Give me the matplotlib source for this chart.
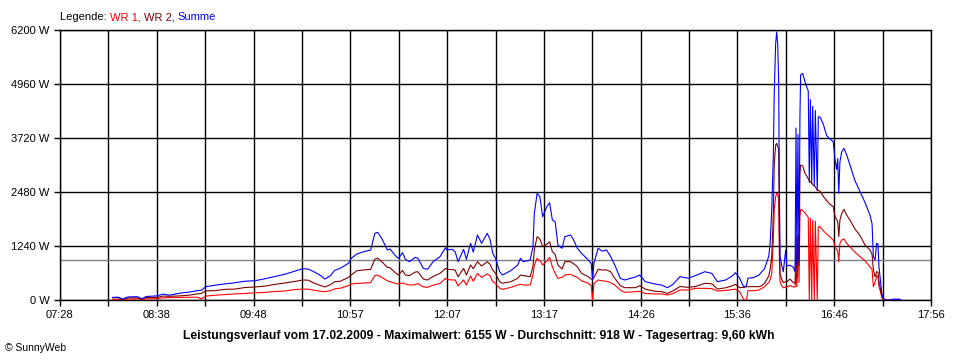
import matplotlib
matplotlib.use("Agg")
import matplotlib.pyplot as plt

plt.rcParams['font.family'] = ['Liberation Sans', 'DejaVu Sans']

# ---- data -------------------------------------------------------------
times = [
    "08:06", "08:10", "08:13", "08:17", "08:24", "08:27", "08:30", "08:38", "08:42", "08:47",
    "08:55", "09:02", "09:07", "09:10", "09:13", "09:20", "09:27", "09:34", "09:41", "09:49",
    "09:56", "10:03", "10:10", "10:17", "10:23", "10:27", "10:31", "10:36", "10:39", "10:43",
    "10:46", "10:50", "10:56", "10:58", "11:02", "11:07", "11:12", "11:15", "11:17", "11:20",
    "11:24", "11:26", "11:30", "11:32", "11:35", "11:37", "11:40", "11:44", "11:46", "11:50",
    "11:53", "11:57", "12:02", "12:06", "12:07", "12:11", "12:13", "12:15", "12:19", "12:21",
    "12:24", "12:26", "12:29", "12:32", "12:36", "12:38", "12:40", "12:42", "12:45", "12:47",
    "12:53", "12:58", "13:00", "13:02", "13:07", "13:09", "13:10", "13:12", "13:14", "13:16",
    "13:19", "13:21", "13:23", "13:25", "13:27", "13:30", "13:32", "13:36", "13:38", "13:41",
    "13:44", "13:49", "13:51", "13:52", "13:53", "13:56", "13:59", "14:02", "14:05", "14:08",
    "14:12", "14:15", "14:23", "14:26", "14:30", "14:37", "14:42", "14:46", "14:50", "14:55",
    "15:01", "15:06", "15:13", "15:18", "15:22", "15:28", "15:33", "15:35", "15:38", "15:41",
    "15:43", "15:44", "15:48", "15:52", "15:54", "15:56", "15:59", "16:00", "16:01:10", "16:02:20",
    "16:03:00", "16:04:00", "16:04:45", "16:05:30", "16:06:10", "16:06:40", "16:07:10", "16:08:20", "16:09:30", "16:11:15",
    "16:12:00", "16:14:20", "16:16:45", "16:18:00", "16:18:40", "16:19:20", "16:20:05", "16:20:50", "16:21:30", "16:22:00",
    "16:23:30", "16:25:10", "16:26:20", "16:27:30", "16:28:15", "16:29:00", "16:30:00", "16:30:40", "16:31:50", "16:32:35",
    "16:34:00", "16:34:45", "16:36:00", "16:38:20", "16:40:50", "16:43:10", "16:45:30", "16:46:50", "16:48:00", "16:48:45",
    "16:49:30", "16:50:20", "16:51:40", "16:53:15", "16:55:15", "16:57:35", "17:01:10", "17:04:50", "17:08:25", "17:12:00",
    "17:13:30", "17:14:25", "17:15:40", "17:16:50", "17:17:45", "17:18:30", "17:19:15", "17:20:30", "17:21:25", "17:22:50",
    "17:28:00", "17:28:30", "17:33:30", "17:34:00",
]

summe = [
    60, 65, 20, 70, 75, 25, 80, 95, 135, 110,
    160, 185, 215, 225, 305, 340, 370, 395, 430, 445,
    490, 540, 590, 660, 719, 710, 650, 560, 480, 560,
    680, 727, 842, 957, 1056, 1110, 1148, 1531, 1554, 1416,
    1148, 1170, 1010, 957, 1087, 934, 880, 980, 960, 727,
    704, 880, 995, 1201, 1150, 1164, 1100, 880, 1164, 934,
    1301, 1100, 1492, 1301, 1531, 1400, 1072, 957, 650, 574,
    673, 803, 957, 880, 918, 1224, 1990, 2449, 2372, 1913,
    2143, 2234, 1837, 1798, 1263, 1187, 1454, 1492, 1400, 1187,
    1072, 918, 830, 480, 850, 1187, 1120, 1150, 1000, 803,
    497, 459, 530, 574, 421, 367, 340, 283, 360, 535,
    500, 560, 650, 610, 421, 460, 560, 627, 500, 300,
    330, 500, 515, 574, 650, 720, 1000, 1300, 2066, 3367,
    4800, 5900, 6155, 5855, 4980, 2600, 1000, 800, 650, 1150,
    780, 800, 750, 650, 3950, 800, 3800, 900, 4200, 5166,
    5204, 5012, 4897, 4800, 2700, 4600, 2680, 4450, 2620, 4350,
    2520, 4209, 4200, 4040, 3770, 3700, 3635, 3214, 3000, 3250,
    2449, 3176, 3405, 3482, 3329, 3100, 2740, 2487, 2240, 1950,
    1750, 1000, 918, 1301, 1290, 765, 535, 153, 50, 0,
    0, 20, 20, 0,
]

wr2 = [
    50, 55, 15, 50, 50, 20, 55, 60, 90, 85,
    95, 115, 140, 150, 210, 215, 245, 250, 285, 300,
    320, 360, 390, 425, 459, 455, 390, 330, 300, 350,
    420, 430, 520, 574, 673, 690, 704, 940, 957, 880,
    750, 740, 620, 574, 680, 574, 560, 640, 650, 480,
    459, 540, 612, 727, 700, 700, 680, 535, 727, 574,
    803, 720, 880, 780, 880, 820, 690, 612, 420, 383,
    420, 497, 574, 560, 535, 765, 1150, 1454, 1400, 1224,
    1280, 1339, 1110, 1048, 803, 712, 880, 880, 840, 765,
    612, 535, 480, 470, 520, 704, 690, 690, 650, 500,
    330, 283, 283, 329, 250, 200, 191, 153, 210, 310,
    290, 310, 383, 370, 253, 280, 330, 360, 283, 290,
    300, 306, 306, 306, 330, 383, 550, 700, 1000, 2000,
    3145, 3559, 3597, 3520, 3482, 1722, 600, 480, 400, 420,
    420, 480, 400, 380, 1450, 500, 1500, 800, 2900, 3100,
    3080, 2909, 2850, 2780, 2740, 2720, 2680, 2650, 2620, 2600,
    2520, 2515, 2500, 2380, 2280, 2200, 2143, 1913, 1850, 1800,
    1454, 1837, 1990, 2082, 1950, 1837, 1630, 1480, 1263, 1150,
    1050, 700, 535, 650, 640, 420, 306, 100, 30, 0,
    0, 0, 0, 0,
]

wr1 = [
    15, 15, 10, 20, 25, 10, 25, 30, 50, 55,
    60, 65, 65, 25, 90, 110, 125, 140, 150, 165,
    175, 195, 205, 240, 250, 250, 225, 200, 190, 215,
    255, 270, 330, 367, 380, 390, 398, 560, 574, 520,
    440, 420, 380, 367, 390, 370, 344, 350, 380, 300,
    291, 340, 380, 497, 470, 460, 460, 321, 460, 344,
    551, 430, 612, 520, 600, 560, 420, 383, 270, 245,
    290, 344, 360, 344, 344, 574, 800, 957, 900, 803,
    900, 980, 760, 612, 497, 520, 574, 590, 560, 520,
    440, 383, 329, 0, 383, 459, 440, 430, 400, 344,
    230, 176, 190, 200, 150, 138, 138, 115, 150, 230,
    230, 268, 268, 260, 207, 220, 240, 250, 191, 0,
    0, 214, 214, 230, 268, 306, 400, 470, 600, 1400,
    2100, 2372, 2449, 2420, 2300, 957, 420, 330, 280, 300,
    300, 330, 300, 300, 600, 300, 1400, 400, 1900, 2082,
    2060, 2000, 1952, 1900, 0, 1880, 0, 1830, 0, 1810,
    0, 1684, 1680, 1590, 1510, 1450, 1378, 1224, 1150, 1148,
    880, 1301, 1380, 1400, 1300, 1220, 1100, 995, 900, 760,
    700, 306, 400, 560, 540, 300, 230, 60, 15, 0,
    0, 0, 0, 0,
]

x_labels = ["07:28", "08:38", "09:48", "10:57", "12:07", "13:17", "14:26", "15:36", "16:46", "17:56"]
y_ticks = [0, 1240, 2480, 3720, 4960, 6200]
average = 918
title = "Leistungsverlauf vom 17.02.2009 - Maximalwert: 6155 W - Durchschnitt: 918 W - Tagesertrag: 9,60 kWh"
legend_parts = [("Legende: ", "black"), ("WR 1, ", "#FF0000"), ("WR 2, ", "#800000"), ("Summe", "#0000FF")]


def to_min(s):
    p = [int(v) for v in s.split(":")]
    m = p[0] * 60 + p[1]
    if len(p) > 2:
        m += p[2] / 60.0
    return m


t = [to_min(s) for s in times]
x0 = to_min(x_labels[0])
x1 = to_min(x_labels[-1])

# ---- figure -----------------------------------------------------------
W, H = 960, 360
fig = plt.figure(figsize=(W / 100, H / 100), dpi=100)
fig.patch.set_facecolor("white")
ax = fig.add_axes([60 / W, 1 - 300 / H, (931 - 60) / W, (300 - 30) / H])
ax.set_xlim(x0, x1)
ax.set_ylim(0, 6200)

n_grid = 18
grid_x = [x0 + (x1 - x0) * k / n_grid for k in range(n_grid + 1)]
for gx in grid_x:
    ax.axvline(gx, color="black", lw=1.0, zorder=1)
for gy in y_ticks:
    ax.axhline(gy, color="black", lw=1.0, zorder=1)
ax.axhline(average, color="#808080", lw=1.0, zorder=1.5)

ax.plot(t, wr1, color="#FF0000", lw=0.8, zorder=3)
ax.plot(t, wr2, color="#800000", lw=0.8, zorder=3)
ax.plot(t, summe, color="#0000FF", lw=0.8, zorder=4)

ax.set_xticks(grid_x)
ax.set_xticklabels([x_labels[k // 2] if k % 2 == 0 else "" for k in range(n_grid + 1)])
ax.set_yticks(y_ticks)
ax.set_yticklabels([f"{v} W" for v in y_ticks])
ax.tick_params(axis="both", direction="out", length=4, width=1.0, color="black",
               labelsize=8, pad=3.5)
for s in ax.spines.values():
    s.set_color("black")
    s.set_linewidth(1.0)

# legend line at top
fig.canvas.draw()
r = fig.canvas.get_renderer()
xp = 60
for s, c in legend_parts:
    txt = fig.text(xp / W, 1 - 17 / H, s, color=c, fontsize=8, va="center", ha="left")
    bb = txt.get_window_extent(r)
    xp = bb.x1

fig.text(479 / W, 1 - 336 / H, title, fontsize=8.7, fontweight="bold", ha="center", va="center")
fig.text(5 / W, 1 - 348 / H, "\u00a9 SunnyWeb", fontsize=7.5, ha="left", va="center")

fig.savefig("out.png", dpi=100, facecolor="white")
